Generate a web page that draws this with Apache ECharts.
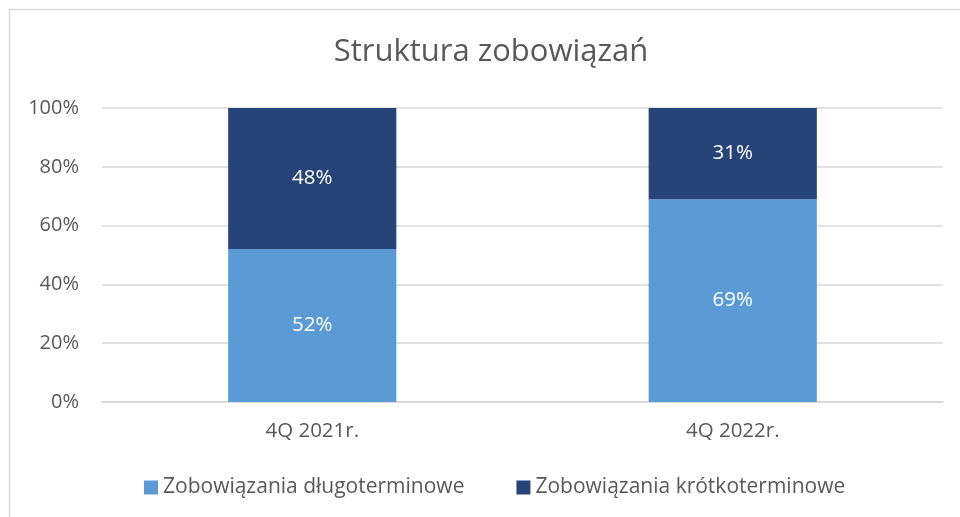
<!DOCTYPE html>
<html><head><meta charset="utf-8">
<script src="https://cdn.jsdelivr.net/npm/echarts@6/dist/echarts.min.js"></script>
<style>html,body{margin:0;padding:0;background:#fff}#c{width:960px;height:517px}</style>
</head><body><div id="c"></div>
<script>
const categories = ['4Q 2021r.', '4Q 2022r.'];
const longTerm = [52, 69];
const shortTerm = [48, 31];
const seriesNames = ['Zobowiązania długoterminowe', 'Zobowiązania krótkoterminowe'];
const yTicks = [0, 20, 40, 60, 80, 100];

const font = '"Open Sans", sans-serif';
const chart = echarts.init(document.getElementById('c'), null, {renderer: 'canvas'});
chart.setOption({
  animation: false,
  backgroundColor: '#fff',
  graphic: [{type: 'rect', shape: {x: 9.5, y: 9.5, width: 1200, height: 1200}, style: {fill: 'none', stroke: '#d9d9d9', lineWidth: 1.5}, silent: true}],
  title: {text: 'Struktura zobowiązań', left: 486, top: 32, textAlign: 'center',
    textStyle: {fontFamily: font, fontSize: 31, fontWeight: 'normal', color: '#595959'}},
  legend: {bottom: 19, left: 144, padding: 0, itemWidth: 14, itemHeight: 14, itemGap: 52, icon: 'rect',
    textStyle: {fontFamily: font, fontSize: 21, color: '#595959', padding: [0, 0, 0, 0]},
    data: seriesNames},
  grid: {left: 102, right: 17, top: 108, bottom: 115, containLabel: false},
  xAxis: {type: 'category', data: categories,
    axisLine: {lineStyle: {color: '#d9d9d9', width: 1.5}}, axisTick: {show: false},
    axisLabel: {fontFamily: font, fontSize: 20.5, color: '#595959', margin: 19}},
  yAxis: {type: 'value', min: 0, max: 100, interval: 20,
    axisLabel: {fontFamily: font, fontSize: 20, color: '#595959', margin: 23, formatter: v => yTicks.includes(v) ? v + '%' : ''},
    splitLine: {lineStyle: {color: '#d9d9d9', width: 1.5}}, axisLine: {show: false}, axisTick: {show: false}},
  series: [
    {name: seriesNames[0], type: 'bar', stack: 's', data: longTerm, barWidth: '40%',
      itemStyle: {color: '#5b9bd5'},
      label: {show: true, position: 'inside', formatter: p => p.value + '%', fontFamily: font, fontSize: 20.5, color: '#fff'}},
    {name: seriesNames[1], type: 'bar', stack: 's', data: shortTerm, barWidth: '40%',
      itemStyle: {color: '#264478'},
      label: {show: true, position: 'inside', formatter: p => p.value + '%', fontFamily: font, fontSize: 20.5, color: '#fff'}}
  ]
});
</script></body></html>
